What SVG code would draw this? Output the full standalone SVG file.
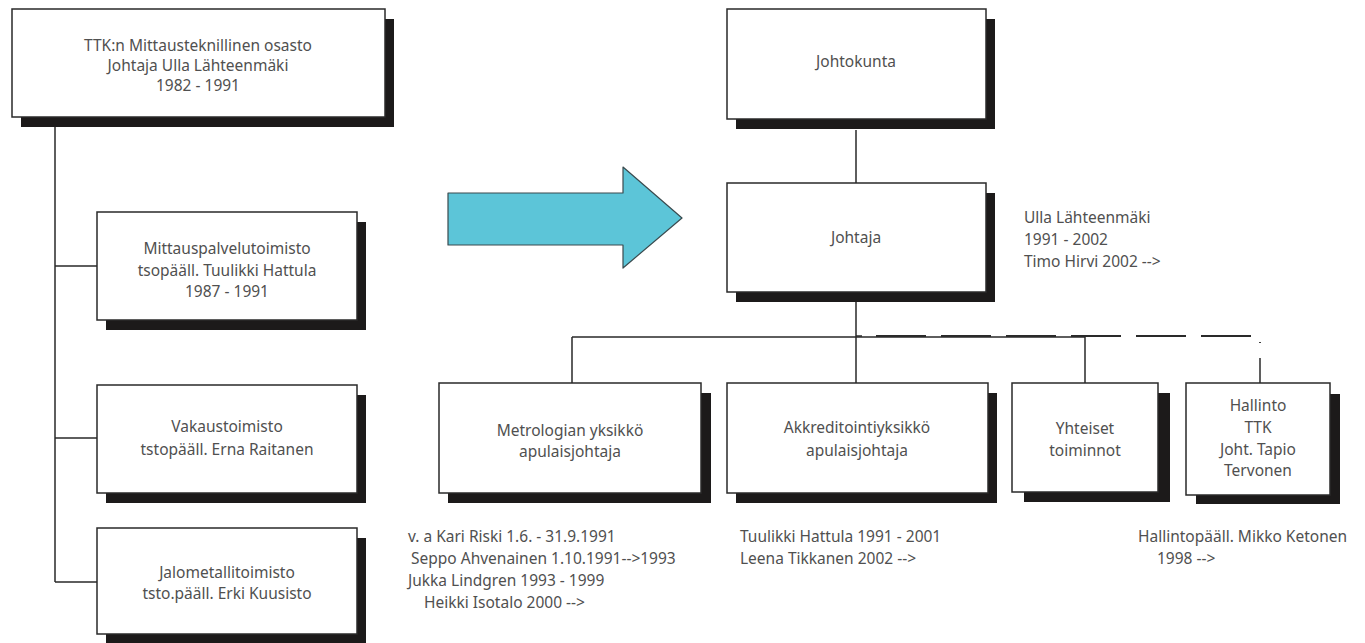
<svg xmlns="http://www.w3.org/2000/svg" width="1365" height="643" viewBox="0 0 1365 643">
<style>
.box{fill:#ffffff;stroke:#2a2a2a;stroke-width:1.5}
.sh{fill:#1c1a1a}
.t{font-family:"Noto Sans","Liberation Sans",Arial,sans-serif;font-size:15.5px;fill:#505050;text-anchor:middle}
.tl{font-family:"Noto Sans","Liberation Sans",Arial,sans-serif;font-size:15.5px;fill:#505050}
.ln{fill:none;stroke:#2a2a2a;stroke-width:1.5}
.dash{fill:none;stroke:#2a2a2a;stroke-width:1.8;stroke-dasharray:50 15}
</style>
<rect width="1365" height="643" fill="#ffffff"/>
<g id="connectors">
<path class="ln" d="M55,127 V582 M55,266 H97 M55,438 H97 M55,582 H97"/>
<path class="ln" d="M856,130 V183 M856,302 V383 M572,337 H1085 M572,337 V383 M1085,337 V383"/>
<path class="dash" d="M876,336 H1260 V343"/>
<path class="ln" d="M856,336 H862"/>
<path class="ln" d="M1260,358 V383"/>
</g>
<g id="arrow">
<polygon points="448,193 623,193 623,167 682,218 623,268 623,245 448,245" fill="#5cc5d8" stroke="#3a4a4e" stroke-width="1.2" stroke-linejoin="round"/>
</g>
<g id="ttk">
<rect class="sh" x="21" y="19" width="373" height="108"/>
<rect class="box" x="12" y="9" width="373" height="108"/>
<text class="t" x="198" y="51">TTK:n Mittausteknillinen osasto</text>
<text class="t" x="198" y="71">Johtaja Ulla Lähteenmäki</text>
<text class="t" x="198" y="91">1982 - 1991</text>
</g>
<g id="mittauspalvelu">
<rect class="sh" x="106" y="222" width="260" height="108"/>
<rect class="box" x="97" y="212" width="260" height="108"/>
<text class="t" x="227" y="254">Mittauspalvelutoimisto</text>
<text class="t" x="227" y="276">tsopääll. Tuulikki Hattula</text>
<text class="t" x="227" y="297">1987 - 1991</text>
</g>
<g id="vakaus">
<rect class="sh" x="106" y="395" width="260" height="108"/>
<rect class="box" x="97" y="385" width="260" height="108"/>
<text class="t" x="227" y="432">Vakaustoimisto</text>
<text class="t" x="227" y="455">tstopääll. Erna Raitanen</text>
</g>
<g id="jalometalli">
<rect class="sh" x="106" y="538" width="260" height="108"/>
<rect class="box" x="97" y="528" width="260" height="106"/>
<text class="t" x="227" y="578">Jalometallitoimisto</text>
<text class="t" x="227" y="599">tsto.pääll. Erki Kuusisto</text>
</g>
<g id="johtokunta">
<rect class="sh" x="736" y="19" width="259" height="110"/>
<rect class="box" x="727" y="9" width="259" height="110"/>
<text class="t" x="856" y="67">Johtokunta</text>
</g>
<g id="johtaja">
<rect class="sh" x="736" y="193" width="259" height="109"/>
<rect class="box" x="727" y="183" width="259" height="109"/>
<text class="t" x="856" y="243">Johtaja</text>
</g>
<g id="johtaja-names">
<text class="tl" x="1024" y="223">Ulla Lähteenmäki</text>
<text class="tl" x="1024" y="245">1991 - 2002</text>
<text class="tl" x="1024" y="267">Timo Hirvi 2002 --&gt;</text>
</g>
<g id="metrologia">
<rect class="sh" x="448" y="393" width="263" height="110"/>
<rect class="box" x="439" y="383" width="262" height="110"/>
<text class="t" x="570" y="436">Metrologian yksikkö</text>
<text class="t" x="570" y="457">apulaisjohtaja</text>
</g>
<g id="akkreditointi">
<rect class="sh" x="736" y="393" width="261" height="110"/>
<rect class="box" x="727" y="383" width="261" height="110"/>
<text class="t" x="857" y="433">Akkreditointiyksikkö</text>
<text class="t" x="857" y="456">apulaisjohtaja</text>
</g>
<g id="yhteiset">
<rect class="sh" x="1024" y="393" width="146" height="109"/>
<rect class="box" x="1012" y="383" width="146" height="109"/>
<text class="t" x="1085" y="434">Yhteiset</text>
<text class="t" x="1085" y="456">toiminnot</text>
</g>
<g id="hallinto">
<rect class="sh" x="1196" y="394" width="144" height="110"/>
<rect class="box" x="1186" y="383" width="144" height="112"/>
<text class="t" x="1258" y="411">Hallinto</text>
<text class="t" x="1258" y="433">TTK</text>
<text class="t" x="1258" y="455">Joht. Tapio</text>
<text class="t" x="1258" y="476">Tervonen</text>
</g>
<g id="metrologia-names">
<text class="tl" x="408" y="542">v. a Kari Riski 1.6. - 31.9.1991</text>
<text class="tl" x="411" y="564">Seppo Ahvenainen 1.10.1991--&gt;1993</text>
<text class="tl" x="408" y="586">Jukka Lindgren 1993 - 1999</text>
<text class="tl" x="424" y="608">Heikki Isotalo 2000 --&gt;</text>
</g>
<g id="akkreditointi-names">
<text class="tl" x="740" y="542">Tuulikki Hattula 1991 - 2001</text>
<text class="tl" x="740" y="564">Leena Tikkanen 2002 --&gt;</text>
</g>
<g id="hallinto-names">
<text class="tl" x="1138" y="542">Hallintopääll. Mikko Ketonen</text>
<text class="tl" x="1157" y="564">1998 --&gt;</text>
</g>
</svg>
